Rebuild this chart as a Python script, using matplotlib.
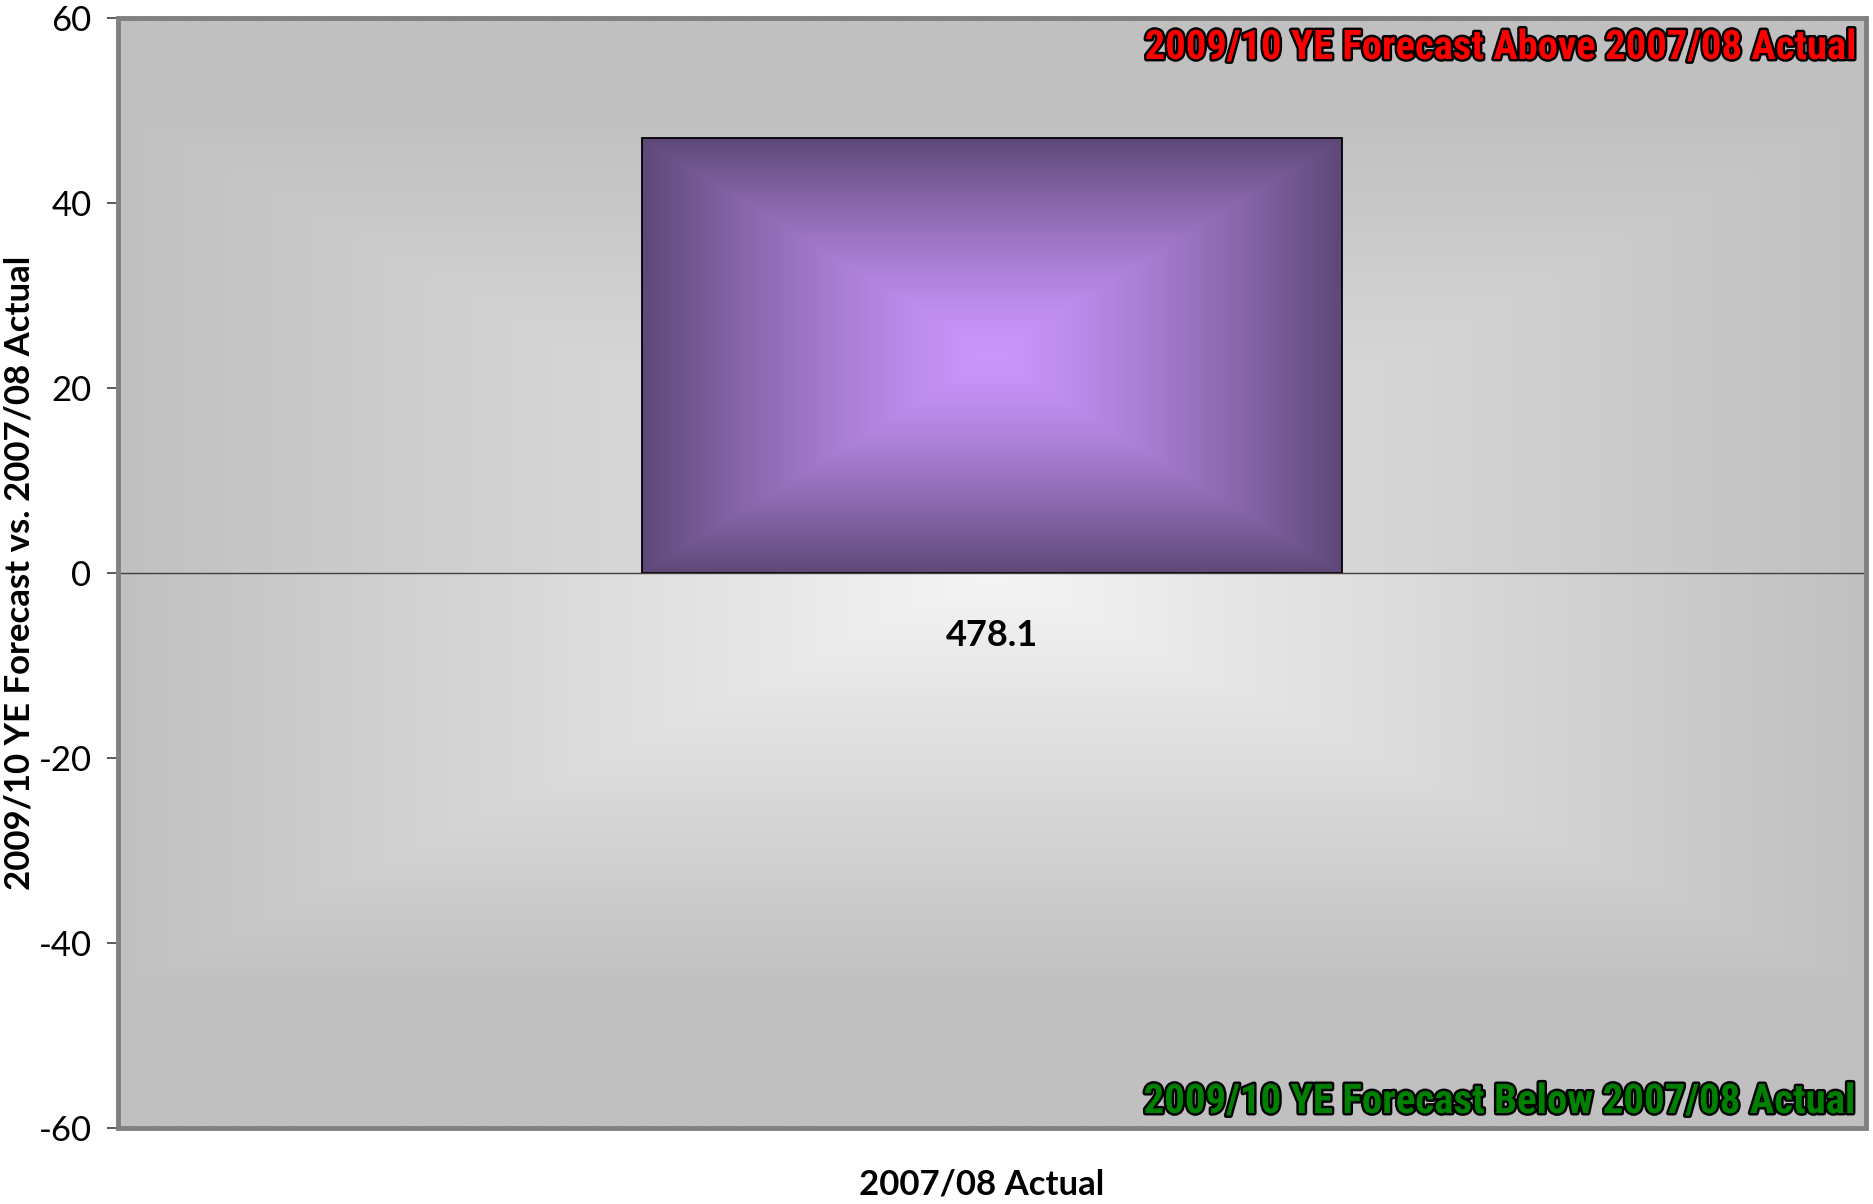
import numpy as np
import matplotlib.pyplot as plt
from matplotlib import patheffects as pe
from matplotlib import font_manager as fm
from matplotlib.patches import Rectangle

# data
categories = ["478.1"]
values = [47.0]
y_ticks = [-60, -40, -20, 0, 20, 40, 60]
above_note = "2009/10 YE Forecast Above 2007/08 Actual"
below_note = "2009/10 YE Forecast Below 2007/08 Actual"
x_title = "2007/08 Actual"
y_title = "2009/10 YE Forecast vs. 2007/08 Actual"

plt.rcParams['font.family'] = ['Lato', 'DejaVu Sans']
plt.rcParams['axes.unicode_minus'] = False


def pick_narrow():
    # look for a condensed bold face for the notes, else plain Liberation Sans
    tries = [('Liberation Sans Narrow', 'normal'), ('Roboto Condensed', 'normal'),
             ('Noto Sans Condensed', 'normal'), ('Open Sans Condensed', 'normal'),
             ('Noto Sans', 'condensed'), ('Open Sans', 'condensed'), ('Roboto', 'condensed')]
    for fam, st in tries:
        fp = fm.FontProperties(family=fam, weight='bold', stretch=st)
        try:
            path = fm.findfont(fp, fallback_to_default=False)
        except Exception:
            continue
        if st == 'condensed' and 'ondensed' not in path:
            continue
        return fam, st
    return 'Liberation Sans', 'normal'


NOTE_FAM, NOTE_STRETCH = pick_narrow()

W, H = 1874, 1204
fig = plt.figure(figsize=(W / 100, H / 100), dpi=100)
ax = fig.add_axes([118 / W, 1 - 1128 / H, 1748 / W, 1110 / H])


def rect_grad(u, v, c0, c1, gamma=1.0):
    # rectangular "from centre" gradient, like Excel's path fill
    t = np.clip(np.maximum(np.abs(u), np.abs(v)), 0, 1) ** gamma
    c0 = np.asarray(c0, float) / 255
    c1 = np.asarray(c1, float) / 255
    return c0 + (c1 - c0) * t[..., None]


# plot-area background: two grey path gradients meeting at the zero line
xs = np.linspace(0, 1, 875)
ys = np.linspace(60, -60, 556)
X, Y = np.meshgrid(xs, ys)
up = rect_grad((X - 0.5) / 0.5, Y / 50, (232, 232, 232), (192, 192, 192))
lo = rect_grad((X - 0.5) / 0.5, Y / 45, (245, 245, 245), (192, 192, 192))
bg = np.where((Y >= 0)[..., None], up, lo)
ax.imshow(bg, extent=[0, 1, -60, 60], aspect='auto', zorder=0, interpolation='bilinear')

# bar with purple gradient
bars = ax.bar(np.arange(len(values)) + 0.5, values, width=0.4, color='none',
              edgecolor='black', linewidth=1.3, zorder=3)
for b in bars:
    x0, y0, w, h = b.get_x(), b.get_y(), b.get_width(), b.get_height()
    u, v = np.meshgrid(np.linspace(-1, 1, 400), np.linspace(-1, 1, 300))
    g = rect_grad(u, v, (202, 150, 252), (94, 72, 120), gamma=1.4)
    im = ax.imshow(g, extent=[x0, x0 + w, y0, y0 + h], aspect='auto', zorder=2,
                   interpolation='bilinear')
    im.set_clip_path(b)

ax.set_xlim(0, len(values))
ax.set_ylim(-60, 60)

# axes styling
for s in ['top', 'right', 'left']:
    ax.spines[s].set_visible(False)
ax.spines['bottom'].set_position(('data', 0))
ax.spines['bottom'].set_color('#404040')
ax.spines['bottom'].set_linewidth(1.0)
ax.spines['bottom'].set_zorder(4)
ax.add_patch(Rectangle((0, 0), 1, 1, transform=ax.transAxes, fill=False,
                       edgecolor='#808080', linewidth=3.5, zorder=5, clip_on=False))

ax.set_yticks(y_ticks)
ax.tick_params(axis='y', direction='out', length=8, width=1.2, color='#404040',
               labelsize=25, pad=11)
ax.set_xticks(np.arange(len(values) + 1))
ax.set_xticklabels([])
ax.set_xticks(np.arange(len(values)) + 0.5, minor=True)
ax.set_xticklabels(categories, minor=True, fontweight='bold', fontsize=26)
ax.tick_params(axis='x', which='major', direction='out', length=8, width=1.2, color='#404040')
ax.tick_params(axis='x', which='minor', length=0, pad=33)

# region notes, sized to the width they take in the original
note_font = dict(family=[NOTE_FAM, 'DejaVu Sans'], fontstretch=NOTE_STRETCH,
                 fontweight='bold', fontsize=30, ha='right', va='center',
                 transform=ax.transAxes, zorder=6,
                 path_effects=[pe.withStroke(linewidth=3.5, foreground='black')])
t_up = ax.text(0.9937, 0.973, above_note, color='#ff0000', **note_font)
t_lo = ax.text(0.9937, 0.0234, below_note, color='#008000', **note_font)
fig.canvas.draw()
r = fig.canvas.get_renderer()
for t in (t_up, t_lo):
    wpx = t.get_window_extent(r).width
    t.set_fontsize(min(34, 30 * 712 / wpx))

fig.text(20 / W, 1 - 573 / H, y_title, rotation=90, ha='center', va='center',
         fontsize=25, fontweight='bold')
fig.text(982 / W, 1 - 1184 / H, x_title, ha='center', va='center',
         fontsize=25, fontweight='bold')

fig.savefig('out.png', dpi=100, facecolor='white')
